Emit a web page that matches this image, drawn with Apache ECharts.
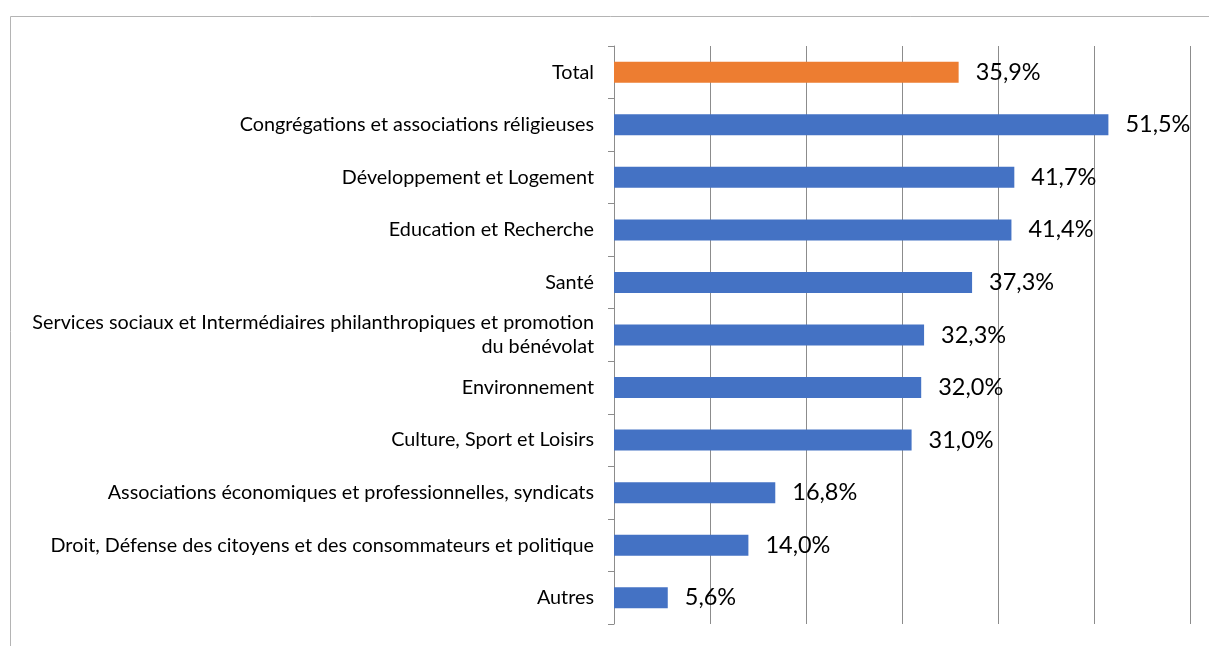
<!DOCTYPE html>
<html>
<head>
<meta charset="utf-8">
<script src="https://cdn.jsdelivr.net/npm/echarts@6/dist/echarts.min.js"></script>
<style>
  html, body { margin: 0; padding: 0; background: #fff; }
  #chart { width: 1209px; height: 646px; }
</style>
</head>
<body>
<div id="chart"></div>
<script>
var categories = [
  'Total',
  'Congrégations et associations réligieuses',
  'Développement et Logement',
  'Education et Recherche',
  'Santé',
  'Services sociaux et Intermédiaires philanthropiques et promotion\ndu bénévolat',
  'Environnement',
  'Culture, Sport et Loisirs',
  'Associations économiques et professionnelles, syndicats',
  'Droit, Défense des citoyens et des consommateurs et politique',
  'Autres'
];
var values = [35.9, 51.5, 41.7, 41.4, 37.3, 32.3, 32.0, 31.0, 16.8, 14.0, 5.6];
var axisTicks = [0, 10, 20, 30, 40, 50, 60];

var chart = echarts.init(document.getElementById('chart'));
var font = 'Lato, "Open Sans", sans-serif';

var option = {
  animation: false,
  textStyle: { fontFamily: font },
  grid: { left: 614, right: 19, top: 46, bottom: 22 },
  graphic: [{
    type: 'rect',
    shape: { x: 10.5, y: 16.5, width: 1300, height: 700 },
    style: { fill: 'none', stroke: '#b4b4b4', lineWidth: 1 },
    silent: true
  }],
  xAxis: {
    type: 'value',
    min: axisTicks[0],
    max: axisTicks[axisTicks.length - 1],
    interval: 10,
    axisLine: { show: false },
    axisTick: { show: false },
    axisLabel: { show: false },
    splitLine: { lineStyle: { color: '#8c8c8c', width: 1 } }
  },
  yAxis: {
    type: 'category',
    inverse: true,
    data: categories,
    axisLine: { lineStyle: { color: '#8c8c8c', width: 1 } },
    axisTick: { show: true, length: 6, lineStyle: { color: '#8c8c8c' } },
    axisLabel: {
      color: '#000',
      fontSize: 19.8,
      margin: 20,
      align: 'right',
      lineHeight: 24,
      fontFamily: font
    }
  },
  series: [{
    type: 'bar',
    data: values.map(function (v, i) {
      return { value: v, itemStyle: { color: i === 0 ? '#ED7D31' : '#4472C4' } };
    }),
    barWidth: 21,
    label: {
      show: true,
      position: 'right',
      distance: 17,
      color: '#000',
      fontSize: 23.5,
      fontFamily: font,
      formatter: function (p) {
        return p.value.toFixed(1).replace('.', ',') + '%';
      }
    }
  }]
};
chart.setOption(option);
window.addEventListener('resize', function () { chart.resize(); });
</script>
</body>
</html>
